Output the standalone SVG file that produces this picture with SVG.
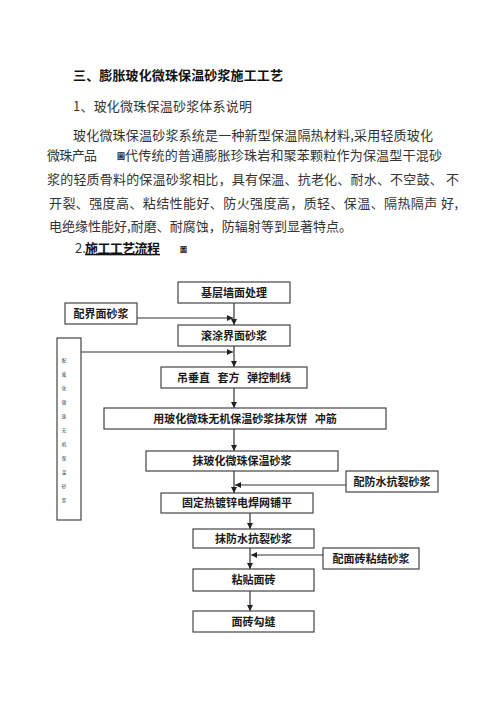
<svg xmlns="http://www.w3.org/2000/svg" width="503" height="711" viewBox="0 0 503 711">
<defs>
<style>
.t{font-family:"Noto Sans CJK SC","Liberation Sans",sans-serif;fill:#333;font-size:13px;}
.h{font-family:"Noto Sans CJK SC","Liberation Sans",sans-serif;fill:#111;font-size:13px;font-weight:bold;}
.bx{fill:#fff;stroke:#444;stroke-width:1.2;}
.bt{font-family:"Noto Sans CJK SC","Liberation Sans",sans-serif;fill:#1a1a1a;font-size:11px;font-weight:bold;text-anchor:middle;}
.ln{stroke:#333;stroke-width:1.2;fill:none;}
</style>
<marker id="ah" markerWidth="6" markerHeight="6" refX="6" refY="3" orient="auto" markerUnits="userSpaceOnUse">
<path d="M0,0 L6,3 L0,6 Z" fill="#222"/>
</marker>
</defs>
<rect width="503" height="711" fill="#fff"/>

<g id="text">
<text class="h" x="73" y="80" textLength="210" lengthAdjust="spacing">三、膨胀玻化微珠保温砂浆施工工艺</text>
<text class="t" x="73" y="111" textLength="179" lengthAdjust="spacing">1、玻化微珠保温砂浆体系说明</text>
<text class="t" x="73" y="140" textLength="360" lengthAdjust="spacing">玻化微珠保温砂浆系统是一种新型保温隔热材料,采用轻质玻化</text>
<text class="t" x="47" y="160" textLength="50" lengthAdjust="spacing">微珠产品</text>
<text class="h" x="117" y="159" style="font-size:8px">圖</text>
<text class="t" x="125" y="160" textLength="317" lengthAdjust="spacing">代传统的普通膨胀珍珠岩和聚苯颗粒作为保温型干混砂</text>
<text class="t" x="47" y="184" textLength="412" lengthAdjust="spacing">浆的轻质骨料的保温砂浆相比，具有保温、抗老化、耐水、不空鼓、 不</text>
<text class="t" x="49" y="208" textLength="409" lengthAdjust="spacing">开裂、强度高、粘结性能好、防火强度高，质轻、保温、隔热隔声 好,</text>
<text class="t" x="49" y="231" textLength="303" lengthAdjust="spacing">电绝缘性能好,耐磨、耐腐蚀，防辐射等到显著特点。</text>
<text class="t" x="75" y="253">2.</text>
<text class="h" x="85" y="253" textLength="75" lengthAdjust="spacing" text-decoration="underline">施工工艺流程</text>
<text class="h" x="180" y="252" style="font-size:7px">圖</text>
</g>

<g id="connectors">
<line class="ln" x1="234" y1="303" x2="234" y2="325" marker-end="url(#ah)"/>
<line class="ln" x1="137" y1="318" x2="233" y2="318" marker-end="url(#ah)"/>
<line class="ln" x1="234" y1="346" x2="234" y2="367" marker-end="url(#ah)"/>
<line class="ln" x1="81" y1="352" x2="233" y2="352" marker-end="url(#ah)"/>
<line class="ln" x1="234" y1="388" x2="234" y2="408" marker-end="url(#ah)"/>
<line class="ln" x1="234" y1="429" x2="234" y2="451" marker-end="url(#ah)"/>
<line class="ln" x1="234" y1="471" x2="234" y2="493" marker-end="url(#ah)"/>
<line class="ln" x1="346" y1="485" x2="235" y2="485" marker-end="url(#ah)"/>
<line class="ln" x1="250" y1="513" x2="250" y2="529" marker-end="url(#ah)"/>
<line class="ln" x1="250" y1="548" x2="250" y2="569" marker-end="url(#ah)"/>
<line class="ln" x1="323" y1="555" x2="251" y2="555" marker-end="url(#ah)"/>
<line class="ln" x1="250" y1="591" x2="250" y2="611" marker-end="url(#ah)"/>
</g>

<g id="n1"><rect class="bx" x="178" y="282" width="112" height="21"/><text class="bt" x="234" y="296.5">基层墙面处理</text></g>
<g id="n2"><rect class="bx" x="65" y="303" width="72" height="21"/><text class="bt" x="101" y="317.5">配界面砂浆</text></g>
<g id="n3"><rect class="bx" x="178" y="325" width="112" height="21"/><text class="bt" x="234" y="339.5">滚涂界面砂浆</text></g>
<g id="n4"><rect class="bx" x="57" y="338" width="24" height="182"/>
<text x="64 64 64 64 64 64 64 64 64 64 64" y="362 376 390 404 418 432 446 460 474 488 502" style="font-family:'Noto Sans CJK SC',sans-serif;font-size:4.5px;fill:#333;text-anchor:middle">配玻化微珠无机保温砂浆</text></g>
<g id="n5"><rect class="bx" x="161" y="367" width="146" height="21"/><text class="bt" x="234" y="381.5" xml:space="preserve">吊垂直   套方   弹控制线</text></g>
<g id="n6"><rect class="bx" x="104" y="408" width="282" height="21"/><text class="bt" x="245" y="422.5" xml:space="preserve">用玻化微珠无机保温砂浆抹灰饼   冲筋</text></g>
<g id="n7"><rect class="bx" x="146" y="451" width="192" height="20"/><text class="bt" x="242" y="465">抹玻化微珠保温砂浆</text></g>
<g id="n8"><rect class="bx" x="346" y="471" width="92" height="21"/><text class="bt" x="392" y="485.5">配防水抗裂砂浆</text></g>
<g id="n9"><rect class="bx" x="161" y="493" width="152" height="20"/><text class="bt" x="237" y="507">固定热镀锌电焊网铺平</text></g>
<g id="n10"><rect class="bx" x="193" y="529" width="121" height="19"/><text class="bt" x="253.5" y="542.5">抹防水抗裂砂浆</text></g>
<g id="n11"><rect class="bx" x="323" y="548" width="96" height="21"/><text class="bt" x="371" y="562.5">配面砖粘结砂浆</text></g>
<g id="n12"><rect class="bx" x="193" y="569" width="121" height="22"/><text class="bt" x="253.5" y="584">粘贴面砖</text></g>
<g id="n13"><rect class="bx" x="193" y="611" width="121" height="21"/><text class="bt" x="253.5" y="625.5">面砖勾缝</text></g>
</svg>
